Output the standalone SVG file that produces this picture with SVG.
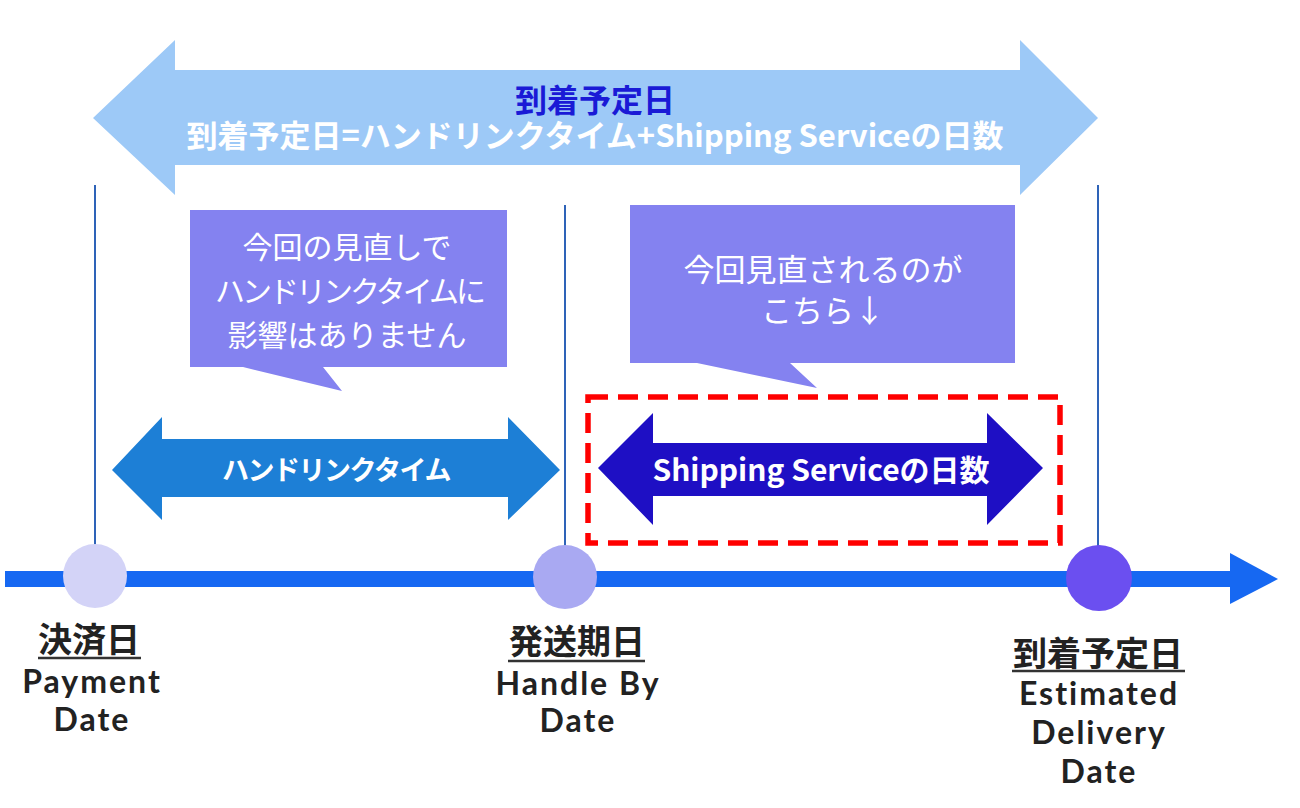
<svg xmlns="http://www.w3.org/2000/svg" width="1300" height="808" viewBox="0 0 1300 808">
<style>
.jp{font-family:"Noto Sans CJK JP","Noto Sans",sans-serif;}
.wb{fill:#ffffff;font-weight:bold;}
.wn{fill:#ffffff;font-weight:normal;}
.lab{font-family:"Lato","Noto Sans CJK JP",sans-serif;font-weight:bold;fill:#222222;font-size:32px;letter-spacing:2px;text-anchor:middle;}
.labjp{font-family:"Noto Sans CJK JP",sans-serif;font-weight:bold;fill:#222222;font-size:34px;text-anchor:middle;}
.vl{stroke:#2e63b8;stroke-width:2;fill:none;}
.ul{stroke:#333333;stroke-width:2.5;}
.box{fill:#8482f0;}
</style>
<rect width="1300" height="808" fill="#ffffff"/>
<g id="connectors">
  <line class="vl" x1="95" y1="185" x2="95" y2="560"/>
  <line class="vl" x1="565" y1="205" x2="565" y2="555"/>
  <line class="vl" x1="1098" y1="185" x2="1098" y2="560"/>
  <rect x="5" y="571" width="1228" height="16" fill="#1668f2"/>
  <polygon points="1230,553 1278,579 1230,604" fill="#1668f2"/>
</g>
<g id="total-arrow">
  <polygon points="93,118 175,40 175,70 1020,70 1020,40 1098,118 1020,195 1020,165 175,165 175,195" fill="#9dc9f7"/>
  <text class="jp" x="595" y="98" font-size="32" font-weight="bold" fill="#1a1ad6" text-anchor="middle" dominant-baseline="central">到着予定日</text>
  <text class="jp wb" x="595" y="133" font-size="31" text-anchor="middle" dominant-baseline="central">到着予定日=ハンドリンクタイム+Shipping Serviceの日数</text>
</g>
<g id="callout-handling">
  <polygon class="box" points="190,210 507,210 507,367 323,367 342,391 243,367 190,367"/>
  <text class="jp wn" font-size="30" text-anchor="middle" dominant-baseline="central"><tspan x="347" y="245">今回の見直しで</tspan><tspan x="349" y="289" letter-spacing="-3">ハンドリンクタイムに</tspan><tspan x="347" y="333">影響はありません</tspan></text>
</g>
<g id="callout-shipping">
  <polygon class="box" points="630,205 1015,205 1015,363 790,363 817,388 697,363 630,363"/>
  <text class="jp wn" font-size="31" text-anchor="middle" dominant-baseline="central"><tspan x="823" y="267">今回見直されるのが</tspan><tspan x="823" y="308">こちら↓</tspan></text>
</g>
<g id="handling-arrow">
  <polygon points="112,470 162,417 162,439 508,439 508,417 560,470 508,520 508,497 162,497 162,520" fill="#1d7fd6"/>
  <text class="jp wb" x="336" y="468" font-size="27" letter-spacing="-1.5" text-anchor="middle" dominant-baseline="central">ハンドリンクタイム</text>
</g>
<g id="shipping-arrow">
  <rect x="588" y="397" width="472" height="146" fill="none" stroke="#ff0000" stroke-width="5.5" stroke-dasharray="20 10"/>
  <polygon points="598,468 653,413 653,443 987,443 987,413 1043,468 987,525 987,496 653,496 653,525" fill="#1e0fc4"/>
  <text class="jp wb" x="821" y="468" font-size="30" text-anchor="middle" dominant-baseline="central">Shipping Serviceの日数</text>
</g>
<g id="payment-date">
  <circle cx="95" cy="576" r="32" fill="#d3d3f7"/>
  <text class="labjp" x="89" y="652">決済日</text>
  <line class="ul" x1="38" y1="658" x2="141" y2="658"/>
  <text class="lab" x="92" y="693">Payment</text>
  <text class="lab" x="92" y="731">Date</text>
</g>
<g id="handle-by-date">
  <circle cx="565" cy="577" r="32" fill="#a9a9f2"/>
  <text class="labjp" x="577" y="654">発送期日</text>
  <line class="ul" x1="508" y1="661" x2="645" y2="661"/>
  <text class="lab" x="578" y="695">Handle By</text>
  <text class="lab" x="578" y="732">Date</text>
</g>
<g id="estimated-delivery-date">
  <circle cx="1099" cy="578" r="33" fill="#6b4ff0"/>
  <text class="labjp" x="1098" y="666">到着予定日</text>
  <line class="ul" x1="1012" y1="671" x2="1185" y2="671"/>
  <text class="lab" x="1099" y="705">Estimated</text>
  <text class="lab" x="1099" y="744">Delivery</text>
  <text class="lab" x="1099" y="783">Date</text>
</g>
</svg>
